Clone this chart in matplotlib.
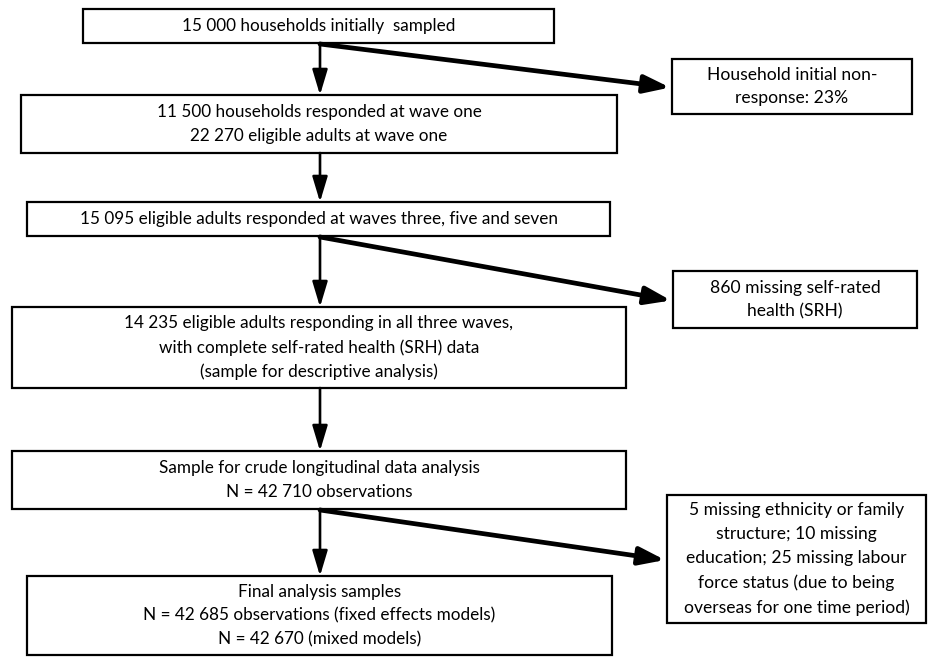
import matplotlib
matplotlib.use("Agg")
import matplotlib.pyplot as plt
from matplotlib.patches import Rectangle, FancyArrowPatch

W, H = 931, 657

# main column boxes: (left, top, right, bottom) in pixels
main_texts = [
    "15 000 households initially  sampled",
    "11 500 households responded at wave one\n22 270 eligible adults at wave one",
    "15 095 eligible adults responded at waves three, five and seven",
    "14 235 eligible adults responding in all three waves,\nwith complete self-rated health (SRH) data\n(sample for descriptive analysis)",
    "Sample for crude longitudinal data analysis\nN = 42 710 observations",
    "Final analysis samples\nN = 42 685 observations (fixed effects models)\nN = 42 670 (mixed models)",
]
main_boxes = [
    (83, 9, 554, 43),
    (21, 95, 617, 153),
    (27, 202, 610, 236),
    (12, 307, 626, 388),
    (12, 451, 626, 509),
    (27, 576, 612, 655),
]

side_texts = [
    "Household initial non-\nresponse: 23%",
    "860 missing self-rated\nhealth (SRH)",
    "5 missing ethnicity or family\nstructure; 10 missing\neducation; 25 missing labour\nforce status (due to being\noverseas for one time period)",
]
side_boxes = [
    (672, 59, 912, 114),
    (673, 271, 917, 328),
    (667, 495, 926, 623),
]
# which main box each side arrow leaves from
side_from = [0, 2, 4]

ARROW_X = 320
main_font = ["Lato", "DejaVu Sans"]
side_font = ["Lato", "DejaVu Sans"]

fig = plt.figure(figsize=(W / 100, H / 100), dpi=100)
ax = fig.add_axes([0, 0, 1, 1])
ax.set_xlim(0, W)
ax.set_ylim(H, 0)
ax.axis("off")


def draw_box(box, text, family, size, spacing):
    x0, y0, x1, y1 = box
    ax.add_patch(Rectangle((x0, y0), x1 - x0, y1 - y0, fill=False,
                           edgecolor="black", linewidth=1.6))
    ax.text((x0 + x1) / 2, (y0 + y1) / 2, text, ha="center", va="center",
            family=family, fontsize=size, linespacing=spacing)


for box, txt in zip(main_boxes, main_texts):
    draw_box(box, txt, main_font, 12.3, 1.6)

for box, txt in zip(side_boxes, side_texts):
    draw_box(box, txt, side_font, 12.6, 1.6)

# vertical arrows between main boxes
for upper, lower in zip(main_boxes[:-1], main_boxes[1:]):
    arr = FancyArrowPatch((ARROW_X, upper[3]), (ARROW_X, lower[1]),
                          arrowstyle="-|>,head_length=1.4,head_width=0.42",
                          mutation_scale=11, linewidth=1.9, color="black",
                          shrinkA=0, shrinkB=0)
    ax.add_patch(arr)

# diagonal arrows to the side boxes
for idx, box in zip(side_from, side_boxes):
    start = (ARROW_X, main_boxes[idx][3] + 1)
    end = (box[0] - 2, (box[1] + box[3]) / 2 + 1)
    arr = FancyArrowPatch(start, end,
                          arrowstyle="-|>,head_length=1.3,head_width=0.45",
                          mutation_scale=12, linewidth=3.4, color="black",
                          shrinkA=0, shrinkB=0)
    ax.add_patch(arr)

fig.savefig("out.png", dpi=100, facecolor="white")
